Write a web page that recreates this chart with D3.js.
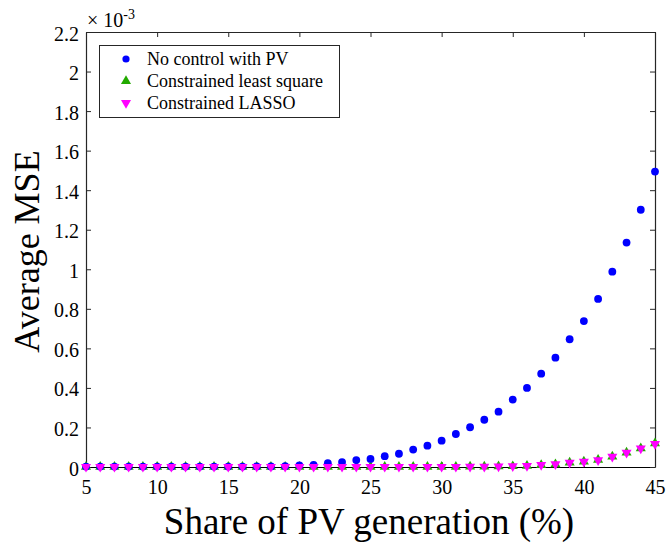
<!DOCTYPE html>
<html>
<head>
<meta charset="utf-8">
<script src="https://cdn.jsdelivr.net/npm/d3@7"></script>
<style>
  html, body { margin: 0; padding: 0; background: #fff; }
  svg { display: block; font-family: "Liberation Serif", "Times New Roman", serif; }
</style>
</head>
<body>
<svg id="chart" width="666" height="546"></svg>
<script>
// PV share (%) on the x axis
const share = d3.range(5, 46);

// Average MSE (×10^-3) for each share
const noControl = [0.002, 0.002, 0.002, 0.002, 0.002, 0.002, 0.002, 0.002, 0.002, 0.002,
  0.002, 0.002, 0.003, 0.003, 0.004, 0.008, 0.010, 0.019, 0.025, 0.035,
  0.041, 0.055, 0.067, 0.088, 0.108, 0.133, 0.167, 0.201, 0.239, 0.280,
  0.341, 0.400, 0.472, 0.553, 0.646, 0.738, 0.850, 0.988, 1.135, 1.301, 1.494];
const leastSquare = [0.001, 0.001, 0.001, 0.001, 0.001, 0.001, 0.001, 0.001, 0.001, 0.001,
  0.001, 0.001, 0.001, 0.001, 0.001, 0.001, 0.001, 0.001, 0.001, 0.001,
  0.001, 0.001, 0.001, 0.001, 0.001, 0.001, 0.001, 0.002, 0.002, 0.003,
  0.004, 0.006, 0.010, 0.014, 0.022, 0.027, 0.036, 0.053, 0.073, 0.095, 0.120];
const lasso = [0.001, 0.001, 0.001, 0.001, 0.001, 0.001, 0.001, 0.001, 0.001, 0.001,
  0.001, 0.001, 0.001, 0.001, 0.001, 0.001, 0.001, 0.001, 0.001, 0.001,
  0.001, 0.001, 0.001, 0.001, 0.001, 0.001, 0.001, 0.002, 0.002, 0.003,
  0.004, 0.006, 0.010, 0.014, 0.022, 0.027, 0.035, 0.052, 0.072, 0.094, 0.117];

const xTicks = [5, 10, 15, 20, 25, 30, 35, 40, 45];
const yTicks = [0, 0.2, 0.4, 0.6, 0.8, 1, 1.2, 1.4, 1.6, 1.8, 2, 2.2];

const seriesNames = ["No control with PV", "Constrained least square", "Constrained LASSO"];
const seriesColors = ["#0000ff", "#22aa00", "#ff00ff"];

const svg = d3.select("#chart");
const margin = { left: 86, right: 11, top: 32, bottom: 79 };
const W = 666, H = 546;
const x = d3.scaleLinear().domain([5, 45]).range([margin.left, W - margin.right]);
const y = d3.scaleLinear().domain([0, 2.2]).range([H - margin.bottom, margin.top]);

const axisColor = "#262626";
const tickLen = 5;
const serif = "'Liberation Serif', 'Times New Roman', serif";

// Axes: ticks drawn inward, mirrored on top and right
const gB = svg.append("g").attr("transform", `translate(0,${y(0)})`)
  .call(d3.axisBottom(x).tickValues(xTicks).tickSizeInner(-tickLen).tickSizeOuter(0).tickPadding(13).tickFormat(d3.format("d")));
const gT = svg.append("g").attr("transform", `translate(0,${y(2.2)})`)
  .call(d3.axisTop(x).tickValues(xTicks).tickSizeInner(-tickLen).tickSizeOuter(0).tickFormat(""));
const gL = svg.append("g").attr("transform", `translate(${x(5)},0)`)
  .call(d3.axisLeft(y).tickValues(yTicks).tickSizeInner(-tickLen).tickSizeOuter(0).tickPadding(7).tickFormat(d => d3.format("~g")(+d.toFixed(1))));
const gR = svg.append("g").attr("transform", `translate(${x(45)},0)`)
  .call(d3.axisRight(y).tickValues(yTicks).tickSizeInner(-tickLen).tickSizeOuter(0).tickFormat(""));

[gB, gT, gL, gR].forEach(g => {
  g.attr("font-family", serif).attr("font-size", 20);
  g.selectAll(".domain").attr("stroke", axisColor).attr("stroke-width", 1.2);
  g.selectAll(".tick line").attr("stroke", axisColor).attr("stroke-width", 1);
  g.selectAll(".tick text").attr("fill", "#000");
});
gB.select(".domain").attr("stroke", "#000");
gL.selectAll(".tick text").attr("dy", "0.4em");

// Exponent label
const expo = svg.append("text").attr("x", x(5) + 1).attr("y", 27)
  .attr("font-family", serif).attr("font-size", 20);
expo.append("tspan").text("× 10");
expo.append("tspan").attr("dy", -8).attr("font-size", 14).text("-3");

// Axis titles
svg.append("text").attr("x", 369).attr("y", 534).attr("text-anchor", "middle")
  .attr("font-family", serif).attr("font-size", 37).text("Share of PV generation (%)");
svg.append("text").attr("transform", `translate(39,${(y(0) + y(2.2)) / 2 + 2}) rotate(-90)`)
  .attr("text-anchor", "middle").attr("font-family", serif).attr("font-size", 36).text("Average MSE");

// Markers
const tri = d3.symbol().type(d3.symbolTriangle).size(44);
const plot = svg.append("g");

plot.selectAll(".ls").data(share).join("path").attr("class", "ls")
  .attr("d", tri)
  .attr("transform", (d, i) => `translate(${x(d)},${y(leastSquare[i])})`)
  .attr("fill", seriesColors[1]);

plot.selectAll(".nc").data(share).join("circle").attr("class", "nc")
  .attr("cx", d => x(d)).attr("cy", (d, i) => y(noControl[i]))
  .attr("r", 3.9).attr("fill", seriesColors[0]);

plot.selectAll(".lasso").data(share).join("path").attr("class", "lasso")
  .attr("d", tri)
  .attr("transform", (d, i) => `translate(${x(d)},${y(lasso[i])}) rotate(180)`)
  .attr("fill", seriesColors[2]);

// Legend
const lg = svg.append("g");
lg.append("rect").attr("x", 99.5).attr("y", 45.5).attr("width", 240).attr("height", 72)
  .attr("fill", "#fff").attr("stroke", axisColor).attr("stroke-width", 1);
const rows = [59, 81, 103];
lg.append("circle").attr("cx", 126).attr("cy", rows[0]).attr("r", 3.6).attr("fill", seriesColors[0]);
lg.append("path").attr("d", tri).attr("transform", `translate(126,${rows[1]})`).attr("fill", seriesColors[1]);
lg.append("path").attr("d", tri).attr("transform", `translate(126,${rows[2]}) rotate(180)`).attr("fill", seriesColors[2]);
seriesNames.forEach((n, i) => {
  lg.append("text").attr("x", 147).attr("y", rows[i] + 6)
    .attr("font-family", serif).attr("font-size", 18).text(n);
});
</script>
</body>
</html>
